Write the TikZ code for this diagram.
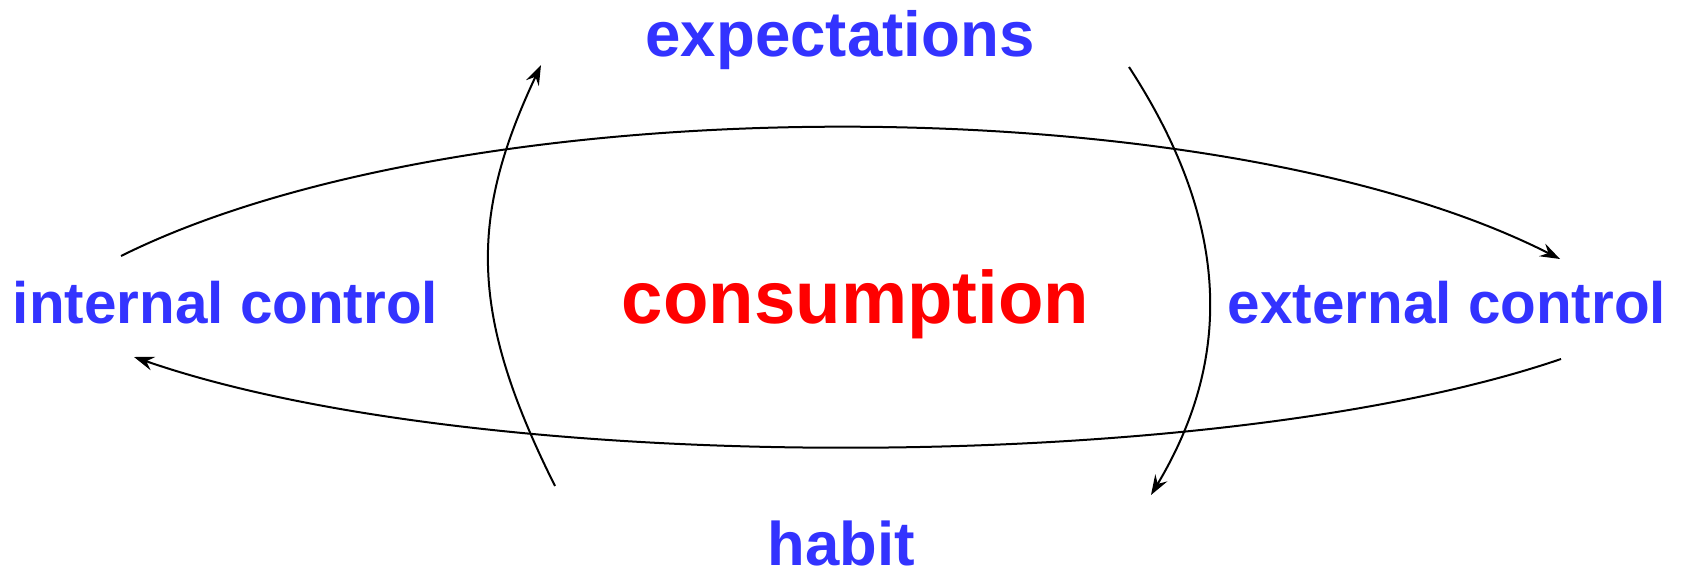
\documentclass[tikz,border=0pt]{standalone}
\usepackage{fontspec}
\setmainfont{Liberation Sans}
\usetikzlibrary{arrows.meta}
\definecolor{lblblue}{HTML}{3333FF}
\definecolor{lblred}{HTML}{FF0000}
\tikzset{
  lbl/.style={font=\fontsize{29.2}{32}\selectfont\bfseries, text=lblblue, inner sep=0pt, anchor=base},
  conn/.style={line width=1pt, -{Stealth[length=10pt, width=7pt, inset=3.5pt]}}
}
\begin{document}
\begin{tikzpicture}[x=0.5pt, y=-0.5pt]
\useasboundingbox (0,0) rectangle (1686,572);
% labels
\node[lbl, font=\fontsize{31.8}{34}\selectfont\bfseries] (exp) at (840,57) {expectations};
\node[lbl, font=\fontsize{30.8}{34}\selectfont\bfseries] (hab) at (841.5,565) {habit};
\node[lbl] (int) at (225.5,323) {internal control};
\node[lbl] (ext) at (1447,323) {external control};
\node[lbl, font=\fontsize{37.2}{40}\selectfont\bfseries, text=lblred] (con) at (855.5,323) {consumption};
% connector end points
\coordinate (intTop) at (121,256);
\coordinate (extTop) at (1560,259);
\coordinate (extBot) at (1561,359);
\coordinate (intBot) at (134,357);
\coordinate (habL) at (555,486);
\coordinate (expL) at (541,65);
\coordinate (expR) at (1129,67);
\coordinate (habR) at (1151,495);
% connectors
\draw[conn] (intTop) .. controls (467,84) and (1215,84) .. (extTop);
\draw[conn] (extBot) .. controls (1216,477) and (479,477) .. (intBot);
\draw[conn] (habL) .. controls (469,314) and (469,218) .. (expL);
\draw[conn] (expR) .. controls (1232,225) and (1232,360) .. (habR);
\end{tikzpicture}
\end{document}
